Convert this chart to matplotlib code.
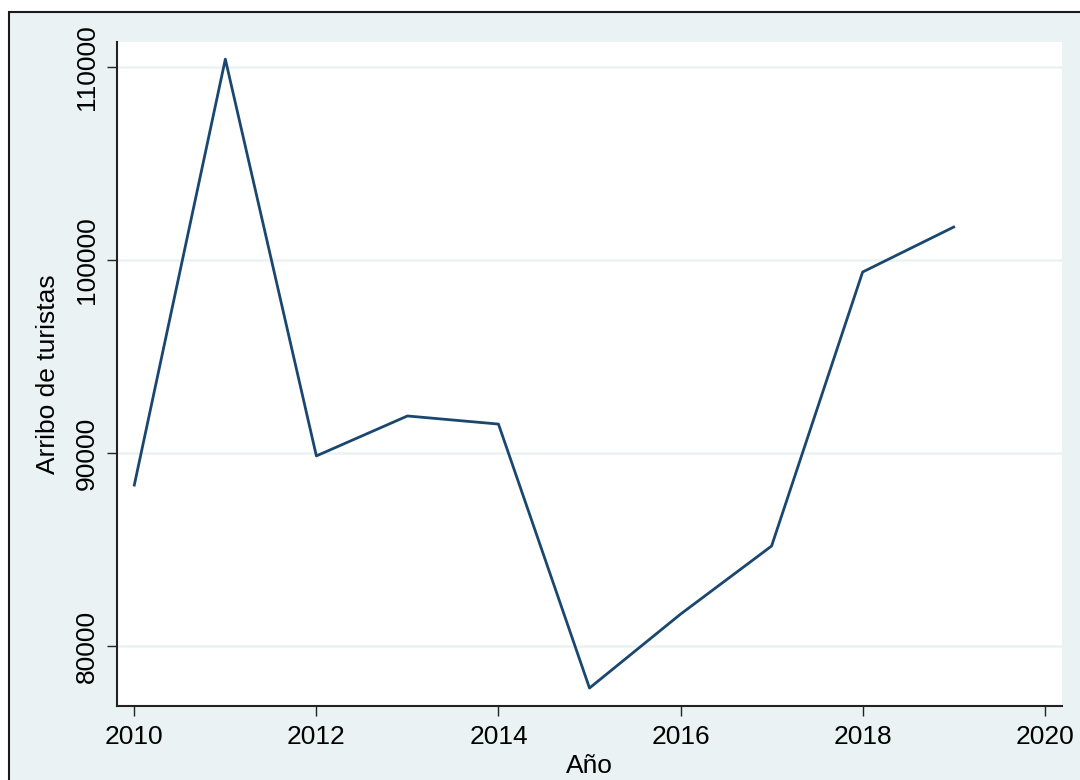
import matplotlib
matplotlib.use("Agg")
import matplotlib.pyplot as plt
from matplotlib.patches import Rectangle

years = [2010, 2011, 2012, 2013, 2014, 2015, 2016, 2017, 2018, 2019]
arrivals = [88340, 110410, 89850, 91920, 91500, 77820, 81650, 85180, 99380, 101710]
x_ticks = [2010, 2012, 2014, 2016, 2018, 2020]
y_ticks = [80000, 90000, 100000, 110000]

plt.rcParams['font.family'] = ['Liberation Sans', 'DejaVu Sans']

W, H = 1080, 780
fig = plt.figure(figsize=(W/100, H/100), dpi=100, facecolor='white')

bg = '#EAF2F3'
fig.patches.append(Rectangle((9/W, -0.1), 1.2, (H-12)/H + 0.1, transform=fig.transFigure,
                             facecolor=bg, edgecolor='#1a1a1a', linewidth=1.5, zorder=-10))

left, right, top, bottom = 117, 1062, 42, 706
ax = fig.add_axes([left/W, (H-bottom)/H, (right-left)/W, (bottom-top)/H])
ax.set_facecolor('white')

ax.plot(years, arrivals, color='#1A476F', linewidth=2.0, zorder=3)

ax.set_xlim(2009.81, 2020.19)
ax.set_ylim(76890, 111300)
ax.set_xticks(x_ticks)
ax.set_yticks(y_ticks)
ax.set_yticklabels([str(v) for v in y_ticks], rotation=90, va='center')
ax.tick_params(axis='both', labelsize=19, length=7, width=1.0, color='#222222', labelcolor='black')
ax.tick_params(axis='y', pad=6)
ax.tick_params(axis='x', pad=7)

ax.grid(axis='y', color=bg, linewidth=1.8, zorder=1)
ax.grid(axis='x', visible=False)
for s in ['top', 'right']:
    ax.spines[s].set_visible(False)
for s in ['left', 'bottom']:
    ax.spines[s].set_color('#222222')
    ax.spines[s].set_linewidth(1.5)

ax.set_xlabel('Año', fontsize=19, labelpad=3)
ax.set_ylabel('Arribo de turistas', fontsize=19, labelpad=11)

fig.savefig('out.png', dpi=100, facecolor=fig.get_facecolor())
